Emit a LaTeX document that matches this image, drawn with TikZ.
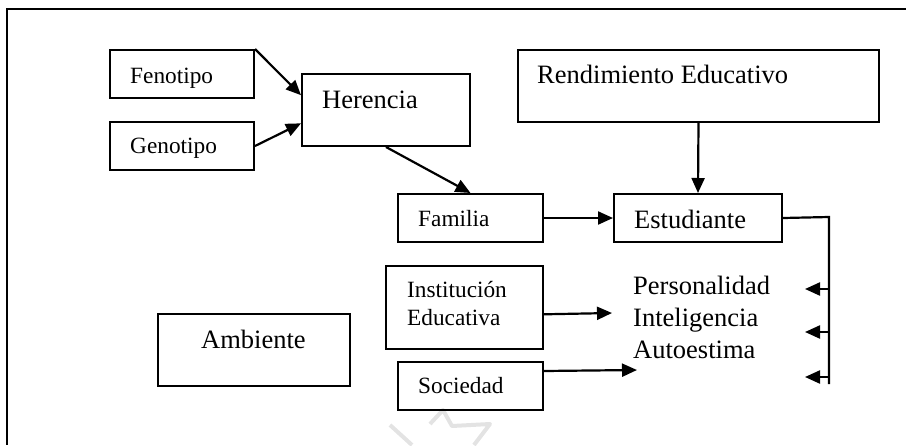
\documentclass[tikz,border=0pt]{standalone}
\usepackage{fontspec}
\setmainfont{Liberation Serif}
\usetikzlibrary{arrows.meta,calc}
\begin{document}
\begin{tikzpicture}[x=1pt,y=-1pt,
  boxn/.style={draw,line width=2pt,inner sep=0pt,anchor=north west},
  big/.style={inner sep=0pt,anchor=base west,font=\fontsize{26.5}{31}\selectfont},
  small/.style={inner sep=0pt,anchor=base west,font=\fontsize{23.3}{28}\selectfont},
  conn/.style={line width=2.2pt,-{Triangle[length=15pt,width=13pt]}},
  plain/.style={line width=2.2pt}]
\useasboundingbox (0,0) rectangle (906,445);
% watermark
\draw[gray!22,line width=4pt,line join=round] (390,425) -- (412,445);
\draw[gray!22,line width=4pt,line join=round] (430,424) -- (443,410) -- (452,426) -- (490,424) -- (474,445);
% outer frame
\draw[line width=2pt] (906,9) -- (7,9) -- (7,445);
% boxes
\node[boxn,minimum width=144pt,minimum height=48pt] (fen) at (109,49) {};
\node[boxn,minimum width=144pt,minimum height=48pt] (gen) at (109,121) {};
\node[boxn,minimum width=168pt,minimum height=72pt] (her) at (301,73) {};
\node[boxn,minimum width=361pt,minimum height=72pt] (ren) at (517,49) {};
\node[boxn,minimum width=145pt,minimum height=48pt] (fam) at (397,193) {};
\node[boxn,minimum width=168pt,minimum height=48pt] (est) at (613,193) {};
\node[boxn,minimum width=157pt,minimum height=83pt] (ins) at (385,265) {};
\node[boxn,minimum width=145pt,minimum height=48pt] (soc) at (397,361) {};
\node[boxn,minimum width=192pt,minimum height=72pt] (amb) at (157,313) {};
% texts
\node[small] (tfen) at (130,83) {Fenotipo};
\node[small] (tgen) at (130,153) {Genotipo};
\node[big] (ther) at (322,108) {Herencia};
\node[big] (tren) at (537,83) {Rendimiento Educativo};
\node[small] (tfam) at (418,226) {Familia};
\node[big] (test) at (634,228) {Estudiante};
\node[small] (tins1) at (407,297) {Institución};
\node[small] (tins2) at (407,325) {Educativa};
\node[small] (tsoc) at (418,393) {Sociedad};
\node[big] (tamb) at (201,348) {Ambiente};
\node[big] (tper) at (633,294) {Personalidad};
\node[big] (tint) at (633,326) {Inteligencia};
\node[big] (taut) at (633,358) {Autoestima};
% connectors
\draw[conn] (fen.north east) -- ($(her.north west)!0.3!(her.south west)$);
\draw[conn] (gen.east) -- ($(her.north west)!0.68!(her.south west)$);
\draw[conn] (her.south) -- (fam.north);
\draw[conn] (fam.east) -- (est.west);
\draw[conn] (ren.south) -- (est.north);
\coordinate (p1) at (612,313);
\coordinate (p2) at (637,370);
\draw[conn] ($(ins.north east)!0.58!(ins.south east)$) -- (p1);
\draw[conn] ($(soc.north east)!0.2!(soc.south east)$) -- (p2);
\coordinate (r0) at (829,217);
\coordinate (r1) at (829,384);
\coordinate (a1) at (829,289);
\coordinate (a2) at (829,332);
\coordinate (a3) at (829,377);
\coordinate (b1) at (805,289);
\coordinate (b2) at (805,332);
\coordinate (b3) at (805,377);
\draw[plain] (est.east) -- (r0) -- (r1);
\draw[conn] (a1) -- (b1);
\draw[conn] (a2) -- (b2);
\draw[conn] (a3) -- (b3);
\end{tikzpicture}
\end{document}
